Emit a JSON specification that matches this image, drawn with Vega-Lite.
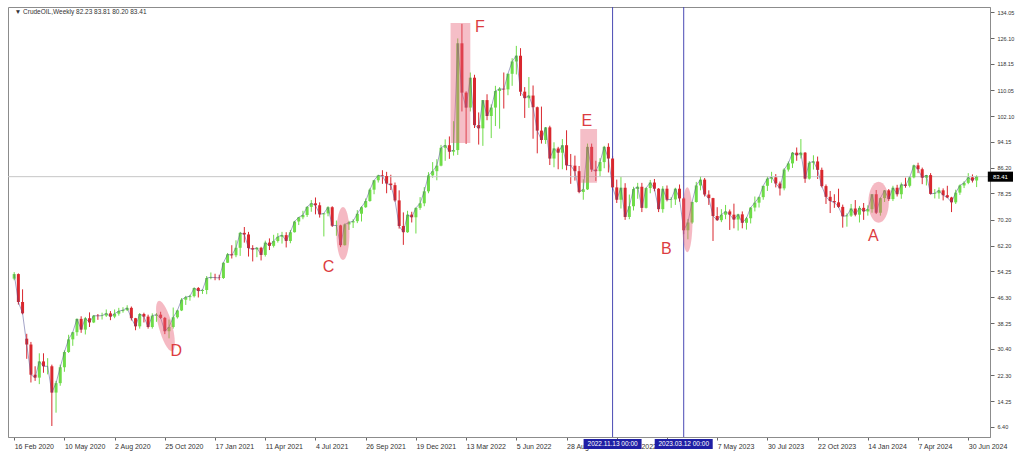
{
"$schema":"https://vega.github.io/schema/vega-lite/v6.json",
"width":982,"height":430,
"autosize":{"type":"none"},
"padding":{"left":8,"top":7,"right":34,"bottom":20},
"background":"white",
"config":{"view":{"stroke":"#8c8c8c","strokeWidth":1},"axis":{"grid":false,"labelOverlap":false},"font":"Liberation Sans"},
"datasets":{
"k":[
{"d":"2020-02-16","o":52.0,"h":54.0,"l":51.5,"c":53.4},
{"d":"2020-02-23","o":53.4,"h":53.6,"l":44.0,"c":44.8},
{"d":"2020-03-01","o":44.8,"h":48.7,"l":41.0,"c":41.3},
{"d":"2020-03-08","o":33.5,"h":35.0,"l":27.3,"c":31.7},
{"d":"2020-03-15","o":31.7,"h":32.5,"l":20.0,"c":22.4},
{"d":"2020-03-22","o":22.4,"h":25.0,"l":20.5,"c":21.5},
{"d":"2020-03-29","o":21.5,"h":29.0,"l":19.5,"c":26.5},
{"d":"2020-04-05","o":26.5,"h":29.0,"l":23.0,"c":25.0},
{"d":"2020-04-12","o":25.0,"h":27.5,"l":22.5,"c":25.0},
{"d":"2020-04-19","o":25.0,"h":25.5,"l":6.6,"c":16.9},
{"d":"2020-04-26","o":16.9,"h":20.5,"l":10.7,"c":19.8},
{"d":"2020-05-03","o":19.8,"h":25.5,"l":19.0,"c":24.7},
{"d":"2020-05-10","o":24.7,"h":29.9,"l":23.3,"c":29.4},
{"d":"2020-05-17","o":29.4,"h":34.7,"l":29.1,"c":33.3},
{"d":"2020-05-24","o":33.3,"h":35.6,"l":31.3,"c":35.5},
{"d":"2020-05-31","o":35.5,"h":39.7,"l":34.4,"c":39.6},
{"d":"2020-06-07","o":39.6,"h":40.4,"l":35.3,"c":36.3},
{"d":"2020-06-14","o":36.3,"h":40.2,"l":34.8,"c":39.8},
{"d":"2020-06-21","o":39.8,"h":41.6,"l":37.1,"c":38.5},
{"d":"2020-06-28","o":38.5,"h":40.8,"l":38.3,"c":40.6},
{"d":"2020-07-05","o":40.6,"h":41.1,"l":39.3,"c":40.5},
{"d":"2020-07-12","o":40.5,"h":41.5,"l":39.4,"c":40.6},
{"d":"2020-07-19","o":40.6,"h":42.5,"l":40.2,"c":41.3},
{"d":"2020-07-26","o":41.3,"h":42.0,"l":39.2,"c":40.3},
{"d":"2020-08-02","o":40.3,"h":42.5,"l":39.8,"c":41.2},
{"d":"2020-08-09","o":41.2,"h":43.0,"l":40.6,"c":42.0},
{"d":"2020-08-16","o":42.0,"h":43.2,"l":41.5,"c":42.3},
{"d":"2020-08-23","o":42.3,"h":43.8,"l":42.0,"c":43.0},
{"d":"2020-08-30","o":43.0,"h":43.4,"l":39.1,"c":39.8},
{"d":"2020-09-06","o":39.8,"h":39.9,"l":36.1,"c":37.3},
{"d":"2020-09-13","o":37.3,"h":41.4,"l":36.6,"c":41.1},
{"d":"2020-09-20","o":41.1,"h":41.5,"l":38.5,"c":40.3},
{"d":"2020-09-27","o":40.3,"h":40.9,"l":36.6,"c":37.1},
{"d":"2020-10-04","o":37.1,"h":41.3,"l":36.6,"c":40.6},
{"d":"2020-10-11","o":40.6,"h":41.4,"l":38.7,"c":40.9},
{"d":"2020-10-18","o":40.9,"h":41.8,"l":39.6,"c":39.9},
{"d":"2020-10-25","o":39.9,"h":40.2,"l":34.9,"c":35.8},
{"d":"2020-11-01","o":35.8,"h":39.4,"l":33.6,"c":37.1},
{"d":"2020-11-08","o":37.1,"h":43.1,"l":36.6,"c":40.1},
{"d":"2020-11-15","o":40.1,"h":42.4,"l":39.7,"c":42.2},
{"d":"2020-11-22","o":42.2,"h":46.0,"l":42.0,"c":45.5},
{"d":"2020-11-29","o":45.5,"h":46.7,"l":43.9,"c":46.3},
{"d":"2020-12-06","o":46.3,"h":47.0,"l":45.2,"c":46.6},
{"d":"2020-12-13","o":46.6,"h":49.3,"l":46.2,"c":49.1},
{"d":"2020-12-20","o":49.1,"h":49.4,"l":46.2,"c":48.2},
{"d":"2020-12-27","o":48.2,"h":48.7,"l":47.3,"c":48.5},
{"d":"2021-01-03","o":48.5,"h":52.8,"l":47.2,"c":52.2},
{"d":"2021-01-10","o":52.2,"h":53.9,"l":51.8,"c":52.4},
{"d":"2021-01-17","o":52.4,"h":53.5,"l":51.5,"c":52.3},
{"d":"2021-01-24","o":52.3,"h":53.2,"l":51.5,"c":52.2},
{"d":"2021-01-31","o":52.2,"h":57.0,"l":51.9,"c":56.9},
{"d":"2021-02-07","o":56.9,"h":59.9,"l":56.8,"c":59.5},
{"d":"2021-02-14","o":59.5,"h":62.3,"l":58.2,"c":59.2},
{"d":"2021-02-21","o":59.2,"h":63.8,"l":58.6,"c":61.5},
{"d":"2021-02-28","o":61.5,"h":66.4,"l":59.0,"c":66.1},
{"d":"2021-03-07","o":66.1,"h":67.9,"l":63.1,"c":65.6},
{"d":"2021-03-14","o":65.6,"h":66.4,"l":58.8,"c":61.4},
{"d":"2021-03-21","o":61.4,"h":62.3,"l":57.3,"c":61.0},
{"d":"2021-03-28","o":61.0,"h":61.7,"l":58.6,"c":61.5},
{"d":"2021-04-04","o":61.5,"h":61.8,"l":57.6,"c":59.3},
{"d":"2021-04-11","o":59.3,"h":63.7,"l":58.8,"c":63.1},
{"d":"2021-04-18","o":63.1,"h":64.4,"l":60.8,"c":62.1},
{"d":"2021-04-25","o":62.1,"h":65.5,"l":61.6,"c":63.6},
{"d":"2021-05-02","o":63.6,"h":66.0,"l":63.1,"c":64.9},
{"d":"2021-05-09","o":64.9,"h":66.4,"l":62.8,"c":65.4},
{"d":"2021-05-16","o":65.4,"h":66.3,"l":61.6,"c":63.6},
{"d":"2021-05-23","o":63.6,"h":67.0,"l":62.9,"c":66.3},
{"d":"2021-05-30","o":66.3,"h":69.8,"l":66.2,"c":69.6},
{"d":"2021-06-06","o":69.6,"h":71.0,"l":68.5,"c":70.9},
{"d":"2021-06-13","o":70.9,"h":72.9,"l":70.3,"c":71.6},
{"d":"2021-06-20","o":71.6,"h":74.3,"l":71.0,"c":74.1},
{"d":"2021-06-27","o":74.1,"h":76.2,"l":72.6,"c":75.2},
{"d":"2021-07-04","o":75.2,"h":77.0,"l":71.8,"c":74.6},
{"d":"2021-07-11","o":74.6,"h":75.5,"l":70.8,"c":71.8},
{"d":"2021-07-18","o":71.8,"h":72.1,"l":65.0,"c":72.1},
{"d":"2021-07-25","o":72.1,"h":74.3,"l":71.2,"c":74.0},
{"d":"2021-08-01","o":74.0,"h":74.3,"l":67.9,"c":68.3},
{"d":"2021-08-08","o":68.3,"h":69.9,"l":65.2,"c":68.4},
{"d":"2021-08-15","o":68.4,"h":68.6,"l":61.7,"c":62.3},
{"d":"2021-08-22","o":62.3,"h":69.0,"l":62.2,"c":68.7},
{"d":"2021-08-29","o":68.7,"h":69.8,"l":67.0,"c":69.3},
{"d":"2021-09-05","o":69.3,"h":70.3,"l":67.6,"c":69.7},
{"d":"2021-09-12","o":69.7,"h":73.1,"l":69.1,"c":72.0},
{"d":"2021-09-19","o":72.0,"h":74.3,"l":69.6,"c":74.0},
{"d":"2021-09-26","o":74.0,"h":76.7,"l":73.8,"c":75.9},
{"d":"2021-10-03","o":75.9,"h":79.8,"l":75.7,"c":79.4},
{"d":"2021-10-10","o":79.4,"h":82.4,"l":78.0,"c":82.3},
{"d":"2021-10-17","o":82.3,"h":84.0,"l":81.6,"c":83.8},
{"d":"2021-10-24","o":83.8,"h":85.4,"l":81.2,"c":83.6},
{"d":"2021-10-31","o":83.6,"h":84.9,"l":78.3,"c":81.3},
{"d":"2021-11-07","o":81.3,"h":84.0,"l":79.3,"c":80.8},
{"d":"2021-11-14","o":80.8,"h":81.6,"l":75.7,"c":76.1},
{"d":"2021-11-21","o":76.1,"h":79.2,"l":67.4,"c":68.2},
{"d":"2021-11-28","o":68.2,"h":72.4,"l":62.4,"c":66.3},
{"d":"2021-12-05","o":66.3,"h":72.9,"l":66.1,"c":71.7},
{"d":"2021-12-12","o":71.7,"h":72.6,"l":69.3,"c":70.9},
{"d":"2021-12-19","o":70.9,"h":73.9,"l":65.9,"c":73.8},
{"d":"2021-12-26","o":73.8,"h":77.1,"l":73.2,"c":75.2},
{"d":"2022-01-02","o":75.2,"h":80.2,"l":74.3,"c":78.9},
{"d":"2022-01-09","o":78.9,"h":84.8,"l":78.3,"c":83.8},
{"d":"2022-01-16","o":83.8,"h":87.9,"l":83.1,"c":85.1},
{"d":"2022-01-23","o":85.1,"h":88.8,"l":82.3,"c":86.8},
{"d":"2022-01-30","o":86.8,"h":93.2,"l":86.6,"c":92.3},
{"d":"2022-02-06","o":92.3,"h":94.9,"l":88.3,"c":93.1},
{"d":"2022-02-13","o":93.1,"h":95.8,"l":88.9,"c":91.1},
{"d":"2022-02-20","o":91.1,"h":100.5,"l":89.9,"c":91.6},
{"d":"2022-02-27","o":91.6,"h":126.0,"l":90.1,"c":124.5},
{"d":"2022-03-06","o":124.5,"h":130.5,"l":103.5,"c":109.3},
{"d":"2022-03-13","o":109.3,"h":109.7,"l":93.5,"c":104.7},
{"d":"2022-03-20","o":104.7,"h":115.5,"l":103.5,"c":113.9},
{"d":"2022-03-27","o":113.9,"h":114.8,"l":98.4,"c":99.3},
{"d":"2022-04-03","o":99.3,"h":103.2,"l":93.3,"c":98.3},
{"d":"2022-04-10","o":98.3,"h":107.0,"l":92.9,"c":107.0},
{"d":"2022-04-17","o":107.0,"h":108.8,"l":100.8,"c":102.1},
{"d":"2022-04-24","o":102.1,"h":105.7,"l":95.3,"c":104.7},
{"d":"2022-05-01","o":104.7,"h":111.4,"l":99.0,"c":109.8},
{"d":"2022-05-08","o":109.8,"h":111.0,"l":98.2,"c":110.5},
{"d":"2022-05-15","o":110.5,"h":115.5,"l":104.4,"c":110.3},
{"d":"2022-05-22","o":110.3,"h":115.2,"l":108.5,"c":115.1},
{"d":"2022-05-29","o":115.1,"h":119.9,"l":111.4,"c":118.9},
{"d":"2022-06-05","o":118.9,"h":123.7,"l":114.9,"c":120.7},
{"d":"2022-06-12","o":120.7,"h":123.0,"l":108.3,"c":109.6},
{"d":"2022-06-19","o":109.6,"h":111.0,"l":101.5,"c":107.6},
{"d":"2022-06-26","o":107.6,"h":114.1,"l":104.6,"c":108.4},
{"d":"2022-07-03","o":108.4,"h":111.5,"l":95.1,"c":104.8},
{"d":"2022-07-10","o":104.8,"h":105.0,"l":90.6,"c":97.6},
{"d":"2022-07-17","o":97.6,"h":105.0,"l":93.6,"c":94.7},
{"d":"2022-07-24","o":94.7,"h":98.7,"l":93.5,"c":98.6},
{"d":"2022-07-31","o":98.6,"h":99.1,"l":87.0,"c":89.0},
{"d":"2022-08-07","o":89.0,"h":94.0,"l":86.3,"c":92.1},
{"d":"2022-08-14","o":92.1,"h":92.6,"l":85.7,"c":90.8},
{"d":"2022-08-21","o":90.8,"h":95.0,"l":85.7,"c":93.1},
{"d":"2022-08-28","o":93.1,"h":97.7,"l":85.4,"c":86.9},
{"d":"2022-09-04","o":86.9,"h":90.4,"l":81.2,"c":86.8},
{"d":"2022-09-11","o":86.8,"h":89.9,"l":82.2,"c":85.1},
{"d":"2022-09-18","o":85.1,"h":86.7,"l":78.3,"c":78.7},
{"d":"2022-09-25","o":78.7,"h":82.6,"l":76.3,"c":79.5},
{"d":"2022-10-02","o":79.5,"h":93.6,"l":79.3,"c":92.6},
{"d":"2022-10-09","o":92.6,"h":93.6,"l":84.9,"c":85.6},
{"d":"2022-10-16","o":85.6,"h":88.3,"l":82.1,"c":85.1},
{"d":"2022-10-23","o":85.1,"h":89.1,"l":83.5,"c":87.9},
{"d":"2022-10-30","o":87.9,"h":92.9,"l":86.0,"c":92.6},
{"d":"2022-11-06","o":92.6,"h":93.7,"l":84.7,"c":89.0},
{"d":"2022-11-13","o":89.0,"h":89.8,"l":79.3,"c":80.1},
{"d":"2022-11-20","o":80.1,"h":82.5,"l":75.3,"c":76.3},
{"d":"2022-11-27","o":76.3,"h":83.3,"l":73.6,"c":80.0},
{"d":"2022-12-04","o":80.0,"h":81.4,"l":70.1,"c":71.0},
{"d":"2022-12-11","o":71.0,"h":77.9,"l":70.3,"c":74.3},
{"d":"2022-12-18","o":74.3,"h":80.3,"l":73.0,"c":79.6},
{"d":"2022-12-25","o":79.6,"h":81.5,"l":76.6,"c":80.3},
{"d":"2023-01-01","o":80.3,"h":81.5,"l":72.5,"c":73.8},
{"d":"2023-01-08","o":73.8,"h":80.1,"l":73.6,"c":79.9},
{"d":"2023-01-15","o":79.9,"h":82.4,"l":78.3,"c":81.6},
{"d":"2023-01-22","o":81.6,"h":82.7,"l":78.9,"c":79.7},
{"d":"2023-01-29","o":79.7,"h":79.9,"l":72.5,"c":73.4},
{"d":"2023-02-05","o":73.4,"h":80.5,"l":72.3,"c":79.7},
{"d":"2023-02-12","o":79.7,"h":80.7,"l":75.8,"c":76.3},
{"d":"2023-02-19","o":76.3,"h":77.1,"l":73.8,"c":76.4},
{"d":"2023-02-26","o":76.4,"h":80.0,"l":74.7,"c":79.7},
{"d":"2023-03-05","o":79.7,"h":81.0,"l":75.7,"c":76.7},
{"d":"2023-03-12","o":76.7,"h":77.1,"l":65.7,"c":66.9},
{"d":"2023-03-19","o":66.9,"h":70.4,"l":64.1,"c":69.3},
{"d":"2023-03-26","o":69.3,"h":75.7,"l":68.9,"c":75.6},
{"d":"2023-04-02","o":75.6,"h":81.8,"l":75.4,"c":80.7},
{"d":"2023-04-09","o":80.7,"h":83.5,"l":79.2,"c":82.5},
{"d":"2023-04-16","o":82.5,"h":83.0,"l":77.3,"c":77.9},
{"d":"2023-04-23","o":77.9,"h":79.2,"l":74.7,"c":76.8},
{"d":"2023-04-30","o":76.8,"h":76.9,"l":63.6,"c":71.3},
{"d":"2023-05-07","o":71.3,"h":74.0,"l":69.8,"c":70.0},
{"d":"2023-05-14","o":70.0,"h":73.4,"l":69.4,"c":71.7},
{"d":"2023-05-21","o":71.7,"h":74.7,"l":70.3,"c":72.7},
{"d":"2023-05-28","o":72.7,"h":73.3,"l":67.0,"c":71.7},
{"d":"2023-06-04","o":71.7,"h":75.1,"l":67.5,"c":70.2},
{"d":"2023-06-11","o":70.2,"h":72.0,"l":66.8,"c":71.8},
{"d":"2023-06-18","o":71.8,"h":72.7,"l":67.5,"c":69.2},
{"d":"2023-06-25","o":69.2,"h":71.0,"l":67.1,"c":70.6},
{"d":"2023-07-02","o":70.6,"h":74.0,"l":69.0,"c":73.9},
{"d":"2023-07-09","o":73.9,"h":77.3,"l":72.7,"c":75.4},
{"d":"2023-07-16","o":75.4,"h":77.3,"l":73.9,"c":77.1},
{"d":"2023-07-23","o":77.1,"h":80.0,"l":76.3,"c":80.6},
{"d":"2023-07-30","o":80.6,"h":83.5,"l":79.0,"c":82.8},
{"d":"2023-08-06","o":82.8,"h":84.9,"l":81.5,"c":83.2},
{"d":"2023-08-13","o":83.2,"h":84.2,"l":80.1,"c":81.3},
{"d":"2023-08-20","o":81.3,"h":81.9,"l":77.6,"c":79.8},
{"d":"2023-08-27","o":79.8,"h":86.0,"l":79.2,"c":85.6},
{"d":"2023-09-03","o":85.6,"h":88.1,"l":85.0,"c":87.5},
{"d":"2023-09-10","o":87.5,"h":91.0,"l":86.1,"c":90.8},
{"d":"2023-09-17","o":90.8,"h":92.4,"l":88.3,"c":90.0},
{"d":"2023-09-24","o":90.0,"h":95.0,"l":89.0,"c":90.8},
{"d":"2023-10-01","o":90.8,"h":91.0,"l":81.5,"c":82.8},
{"d":"2023-10-08","o":82.8,"h":88.2,"l":82.5,"c":87.7},
{"d":"2023-10-15","o":87.7,"h":90.0,"l":85.6,"c":88.1},
{"d":"2023-10-22","o":88.1,"h":89.6,"l":82.7,"c":85.5},
{"d":"2023-10-29","o":85.5,"h":86.2,"l":80.1,"c":80.5},
{"d":"2023-11-05","o":80.5,"h":81.0,"l":75.0,"c":77.2},
{"d":"2023-11-12","o":77.2,"h":79.0,"l":72.2,"c":75.9},
{"d":"2023-11-19","o":75.9,"h":78.0,"l":73.8,"c":75.5},
{"d":"2023-11-26","o":75.5,"h":79.7,"l":73.8,"c":74.1},
{"d":"2023-12-03","o":74.1,"h":74.8,"l":67.7,"c":71.2},
{"d":"2023-12-10","o":71.2,"h":72.1,"l":68.0,"c":71.4},
{"d":"2023-12-17","o":71.4,"h":75.0,"l":71.0,"c":73.6},
{"d":"2023-12-24","o":73.6,"h":76.2,"l":71.2,"c":71.7},
{"d":"2023-12-31","o":71.7,"h":74.4,"l":69.3,"c":73.8},
{"d":"2024-01-07","o":73.8,"h":75.3,"l":70.1,"c":72.7},
{"d":"2024-01-14","o":72.7,"h":74.6,"l":71.4,"c":73.4},
{"d":"2024-01-21","o":73.4,"h":78.0,"l":72.3,"c":78.0},
{"d":"2024-01-28","o":78.0,"h":79.3,"l":71.9,"c":72.3},
{"d":"2024-02-04","o":72.3,"h":77.0,"l":71.4,"c":76.8},
{"d":"2024-02-11","o":76.8,"h":79.3,"l":75.6,"c":79.2},
{"d":"2024-02-18","o":79.2,"h":79.6,"l":75.9,"c":76.5},
{"d":"2024-02-25","o":76.5,"h":80.6,"l":75.9,"c":80.0},
{"d":"2024-03-03","o":80.0,"h":80.9,"l":77.3,"c":78.0},
{"d":"2024-03-10","o":78.0,"h":81.6,"l":76.6,"c":81.0},
{"d":"2024-03-17","o":81.0,"h":83.1,"l":80.0,"c":80.6},
{"d":"2024-03-24","o":80.6,"h":83.2,"l":80.1,"c":83.2},
{"d":"2024-03-31","o":83.2,"h":87.1,"l":82.9,"c":86.9},
{"d":"2024-04-07","o":86.9,"h":87.7,"l":84.5,"c":85.7},
{"d":"2024-04-14","o":85.7,"h":86.2,"l":81.1,"c":83.1},
{"d":"2024-04-21","o":83.1,"h":83.9,"l":80.7,"c":83.9},
{"d":"2024-04-28","o":83.9,"h":84.5,"l":77.9,"c":78.1},
{"d":"2024-05-05","o":78.1,"h":79.6,"l":76.7,"c":78.3},
{"d":"2024-05-12","o":78.3,"h":80.1,"l":76.6,"c":79.2},
{"d":"2024-05-19","o":79.2,"h":79.8,"l":76.1,"c":77.7},
{"d":"2024-05-26","o":77.7,"h":80.6,"l":76.8,"c":77.0},
{"d":"2024-06-02","o":77.0,"h":77.2,"l":72.5,"c":75.5},
{"d":"2024-06-09","o":75.5,"h":79.4,"l":75.0,"c":78.5},
{"d":"2024-06-16","o":78.5,"h":81.0,"l":77.8,"c":80.7},
{"d":"2024-06-23","o":80.7,"h":82.0,"l":79.9,"c":81.5},
{"d":"2024-06-30","o":81.5,"h":84.5,"l":81.1,"c":83.2},
{"d":"2024-07-07","o":83.2,"h":84.1,"l":81.6,"c":82.2},
{"d":"2024-07-14","o":82.23,"h":83.81,"l":80.2,"c":83.41}
]},
"layer":[
{"data":{"name":"k"},"mark":{"type":"rule","strokeWidth":1},
 "encoding":{
  "x":{"field":"d","type":"temporal","title":null,"scale":{"type":"utc","domain":[1581638400000,1722124800000]},
   "axis":{"title":null,"tickCount":40,"values":[1581811200000,1589068800000,1596326400000,1603584000000,1610841600000,1618099200000,1625356800000,1632614400000,1639872000000,1647129600000,1654387200000,1661644800000,1668902400000,1676160000000,1683417600000,1690675200000,1697932800000,1705190400000,1712448000000,1719705600000],
    "format":"%-d %b %Y","labelAlign":"left","labelBaseline":"top","labelFontSize":7,"labelColor":"#333333","tickSize":3,"tickColor":"#666666","domainColor":"#8c8c8c","labelPadding":2,"labelOverlap":false,"labelFlush":false}},
  "y":{"field":"l","type":"quantitative","title":null,"scale":{"domain":[3.21,135.68],"nice":false,"zero":false},
   "axis":{"title":null,"orient":"right","tickCount":40,"values":[134.05,126.10,118.15,110.05,102.10,94.15,86.20,78.25,70.20,62.20,54.25,46.30,38.25,30.40,22.30,14.25,6.40],
    "format":".2f","labelAlign":"left","labelBaseline":"middle","labelFontSize":5.5,"labelColor":"#333333","tickSize":4,"tickColor":"#666666","domainColor":"#8c8c8c","labelPadding":3,"labelOverlap":false,"labelFlush":false}},
  "y2":{"field":"h"},
  "color":{"condition":{"test":"datum.c >= datum.o","value":"#6edc48"},"value":"#d9272e"}}},
{"data":{"values":[{"p":83.41}]},"mark":{"type":"rule","color":"#c6c6c6","strokeWidth":1},
 "encoding":{"y":{"field":"p","type":"quantitative","title":null}}},
{"data":{"values":[{"d":"2022-11-13"},{"d":"2023-03-12"}]},"mark":{"type":"rule","color":"#4a4ab4","strokeWidth":1},
 "encoding":{"x":{"field":"d","type":"temporal","title":null}}},
{"data":{"name":"k"},"mark":{"type":"bar","width":3},
 "encoding":{
  "x":{"field":"d","type":"temporal","title":null},
  "y":{"field":"o","type":"quantitative","title":null},
  "y2":{"field":"c"},
  "color":{"condition":{"test":"datum.c >= datum.o","value":"#6edc48"},"value":"#d9272e"}}},
{"data":{"name":"k"},"mark":{"type":"line","color":"#45458f","strokeWidth":0.7,"opacity":0.7},
 "encoding":{
  "x":{"field":"d","type":"temporal","title":null},
  "y":{"field":"c","type":"quantitative","title":null}}},
{"data":{"values":[{"d1":"2022-02-15","d2":"2022-03-20","p1":93.8,"p2":130.75},{"d1":"2022-09-20","d2":"2022-10-18","p1":81.5,"p2":98.1}]},
 "mark":{"type":"rect","color":"#e8637a","opacity":0.42},
 "encoding":{
  "x":{"field":"d1","type":"temporal","title":null},
  "x2":{"field":"d2"},
  "y":{"field":"p1","type":"quantitative","title":null},
  "y2":{"field":"p2"}}},
{"data":{"values":[{"d":"2020-10-26","p":37.4}]},
 "mark":{"type":"point","shape":"M0,-1A0.26,1 0 1,1 0,1A0.26,1 0 1,1 0,-1Z","size":2704,"angle":-15,"filled":true,"color":"#e8637a","opacity":0.45,"strokeWidth":0},
 "encoding":{"x":{"field":"d","type":"temporal","title":null},"y":{"field":"p","type":"quantitative","title":null}}},
{"data":{"values":[{"d":"2021-08-19","p":65.9}]},
 "mark":{"type":"point","shape":"M0,-1A0.245,1 0 1,1 0,1A0.245,1 0 1,1 0,-1Z","size":2809,"filled":true,"color":"#e8637a","opacity":0.45,"strokeWidth":0},
 "encoding":{"x":{"field":"d","type":"temporal","title":null},"y":{"field":"p","type":"quantitative","title":null}}},
{"data":{"values":[{"d":"2023-03-18","p":70.1}]},
 "mark":{"type":"point","shape":"M0,-1A0.16,1 0 1,1 0,1A0.16,1 0 1,1 0,-1Z","size":4225,"filled":true,"color":"#e8637a","opacity":0.45,"strokeWidth":0},
 "encoding":{"x":{"field":"d","type":"temporal","title":null},"y":{"field":"p","type":"quantitative","title":null}}},
{"data":{"values":[{"d":"2024-02-01","p":75.5}]},
 "mark":{"type":"point","shape":"M0,-1A0.5,1 0 1,1 0,1A0.5,1 0 1,1 0,-1Z","size":1681,"filled":true,"color":"#e8637a","opacity":0.45,"strokeWidth":0},
 "encoding":{"x":{"field":"d","type":"temporal","title":null},"y":{"field":"p","type":"quantitative","title":null}}},
{"data":{"values":[{"d":"2022-04-05","p":129.5,"t":"F"},{"d":"2022-10-01","p":100.6,"t":"E"},{"d":"2020-11-13","p":29.7,"t":"D"},{"d":"2021-07-26","p":55.6,"t":"C"},{"d":"2023-02-11","p":61.1,"t":"B"},{"d":"2024-01-23","p":65.1,"t":"A"}]},
 "mark":{"type":"text","fontSize":16,"color":"#dc3c41","align":"center","baseline":"middle","font":"Liberation Sans"},
 "encoding":{"x":{"field":"d","type":"temporal","title":null},"y":{"field":"p","type":"quantitative","title":null},"text":{"field":"t"}}},
{"data":{"values":[{"d":"2020-02-17","p":134.1,"t":"▼ CrudeOIL,Weekly  82.23 83.81 80.20 83.41"}]},
 "mark":{"type":"text","fontSize":6.5,"color":"#333333","align":"left","baseline":"middle"},
 "encoding":{"x":{"field":"d","type":"temporal","title":null},"y":{"field":"p","type":"quantitative","title":null},"text":{"field":"t"}}},
{"data":{"values":[{"d":"2022-11-13","p":1.06,"t":"2022.11.13 00:00"},{"d":"2023-03-12","p":1.06,"t":"2023.03.12 00:00"}]},
 "mark":{"type":"point","shape":"M-1,-0.17L1,-0.17L1,0.17L-1,0.17Z","size":3364,"filled":true,"color":"#1f1fa5","opacity":1,"strokeWidth":0,"clip":false},
 "encoding":{"x":{"field":"d","type":"temporal","title":null},"y":{"field":"p","type":"quantitative","title":null}}},
{"data":{"values":[{"d":"2022-11-13","p":1.06,"t":"2022.11.13 00:00"},{"d":"2023-03-12","p":1.06,"t":"2023.03.12 00:00"}]},
 "mark":{"type":"text","fontSize":6.5,"color":"white","align":"center","baseline":"middle","clip":false},
 "encoding":{"x":{"field":"d","type":"temporal","title":null},"y":{"field":"p","type":"quantitative","title":null},"text":{"field":"t"}}},
{"data":{"values":[{"d":"2024-07-28","p":83.41,"t":"83.41"}]},
 "mark":{"type":"point","shape":"M0.2,-0.36L2,-0.36L2,0.36L0.2,0.36Z","size":784,"filled":true,"color":"#000000","opacity":1,"strokeWidth":0,"clip":false},
 "encoding":{"x":{"field":"d","type":"temporal","title":null},"y":{"field":"p","type":"quantitative","title":null}}},
{"data":{"values":[{"d":"2024-07-28","p":83.41,"t":"83.41"}]},
 "mark":{"type":"text","fontSize":6,"color":"white","align":"center","baseline":"middle","dx":15.4,"clip":false},
 "encoding":{"x":{"field":"d","type":"temporal","title":null},"y":{"field":"p","type":"quantitative","title":null},"text":{"field":"t"}}}
]
}
